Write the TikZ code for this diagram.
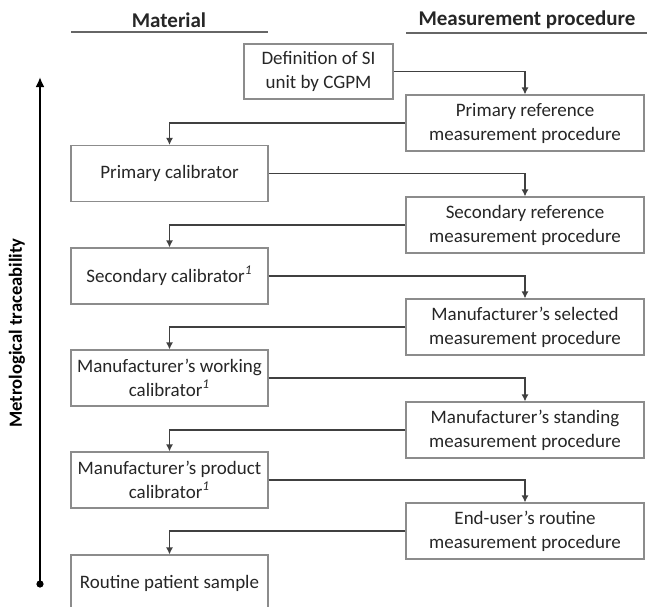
\documentclass[tikz,border=0pt]{standalone}
\usepackage{fontspec}
\setmainfont{Carlito}
\usetikzlibrary{arrows.meta}

\tikzset{
    matbox/.style={draw=black!45, line width=0.6pt, minimum width=98.5pt, minimum height=28pt,
        inner sep=0pt, align=center, text=black!85, font=\fontsize{9.5}{12}\selectfont},
    procbox/.style={matbox, minimum width=119pt},
    link/.style={draw=black!75, line width=0.6pt, -{Latex[length=3.5pt,width=3.5pt]}},
    header/.style={text=black!85, font=\fontsize{10.5}{12}\selectfont\bfseries},
}

\begin{document}
\begin{tikzpicture}[x=0.5pt, y=-0.5pt]
        \useasboundingbox (0,0) rectangle (647,606);
        \clip (0,0) rectangle (647,606);

         % Intestazioni
        \node[header] (hmat) at (169,20) {Material};
        \node[header] (hproc) at (527,20) {Measurement procedure};
        \draw[black!60, line width=0.6pt] (71,32) -- (268,32);
        \draw[black!60, line width=0.6pt] (406,33) -- (647,33);

         % Riquadri
        \node[matbox, minimum width=74.5pt, minimum height=27.5pt] (def) at (318.5,71.5) {Definition of SI\\unit by CGPM};
        \node[procbox] (primref) at (525,123) {Primary reference\\measurement procedure};
        \node[matbox] (primcal) at (169.5,173.5) {Primary calibrator};
        \node[procbox] (secref) at (525,225) {Secondary reference\\measurement procedure};
        \node[matbox] (seccal) at (169.5,276) {Secondary calibrator\textsuperscript{\textit{1}}};
        \node[procbox] (mansel) at (525,327) {Manufacturer’s selected\\measurement procedure};
        \node[matbox] (manwork) at (169.5,378) {Manufacturer’s working\\calibrator\textsuperscript{\textit{1}}};
        \node[procbox] (manstand) at (525,430) {Manufacturer’s standing\\measurement procedure};
        \node[matbox] (manprod) at (169.5,480) {Manufacturer’s product\\calibrator\textsuperscript{\textit{1}}};
        \node[procbox] (enduser) at (525,531) {End-user’s routine\\measurement procedure};
        \node[matbox] (routine) at (169.5,583) {Routine patient sample};

         % Collegamenti
        \draw[link] (def.east) -| (primref.north);
        \draw[link] (primref.west) -| (primcal.north);
        \draw[link] (primcal.east) -| (secref.north);
        \draw[link] (secref.west) -| (seccal.north);
        \draw[link] (seccal.east) -| (mansel.north);
        \draw[link] (mansel.west) -| (manwork.north);
        \draw[link] (manwork.east) -| (manstand.north);
        \draw[link] (manstand.west) -| (manprod.north);
        \draw[link] (manprod.east) -| (enduser.north);
        \draw[link] (enduser.west) -| (routine.north);

         % Riferibilita metrologica
        \coordinate (trbot) at (40,584);
        \coordinate (trtop) at (40,77);
        \draw[-{Latex[length=5pt,width=4.5pt]}, line width=1pt, black] (trbot) -- (trtop);
        \fill[black] (trbot) circle (1.8pt);
        \node[rotate=90, text=black, font=\fontsize{9.3}{11}\selectfont\bfseries] (trlabel) at (17,333) {Metrological traceability};
    \end{tikzpicture}
\end{document}
